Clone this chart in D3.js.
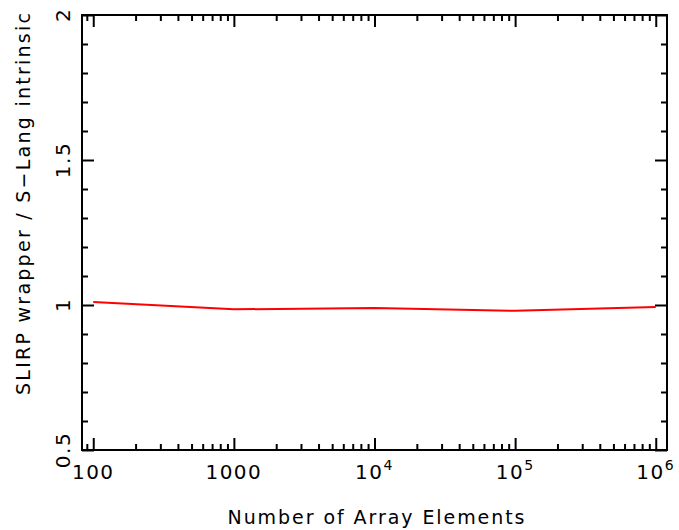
<!DOCTYPE html>
<html lang="en">
<head>
  <meta charset="UTF-8">
  <title>SLIRP wrapper vs S-Lang intrinsic</title>
  <style>
    body { margin: 0; background: #fff; }
    text { font-family: "DejaVu Sans", "Liberation Sans", sans-serif; fill: #000; }
  </style>
</head>
<body>
  <svg id="svg" width="679" height="530"></svg>

  <script src="https://d3js.org/d3.v7.min.js"></script>
  <script>
    // data
    const elements = [100, 1000, 1e4, 1e5, 1e6]
    const ratio = [1.010, 0.985, 0.990, 0.980, 0.993]

    const xMajor = [100, 1000, 1e4, 1e5, 1e6]
    const xMajorExp = [null, null, 4, 5, 6]
    const yMajor = [0.5, 1, 1.5, 2]
    const yMajorLabels = ['0.5', '1', '1.5', '2']

    const margin = { top: 15, right: 12, bottom: 80, left: 82 }
    const width = 679 - margin.left - margin.right
    const height = 530 - margin.top - margin.bottom

    const svg = d3.select('#svg')
    const g = svg.append('g')
      .attr('transform', `translate(${margin.left},${margin.top})`)

    // log axis padded 2% of the decade range on each side
    const x = d3.scaleLog()
      .domain([Math.pow(10, 1.92), Math.pow(10, 6.08)])
      .range([0, width])
    const y = d3.scaleLinear()
      .domain([0.5, 2])
      .range([height, 0])

    // minor ticks
    const xMinor = []
    for (let e = 1; e <= 6; e++) {
      for (let k = 2; k <= 9; k++) {
        const v = k * Math.pow(10, e)
        if (v >= x.domain()[0] && v <= x.domain()[1]) xMinor.push(v)
      }
    }
    const yMinor = d3.range(5, 21).map(d => d / 10).filter(d => yMajor.indexOf(d) < 0)

    function tickAxis(axisFn, scale, values, size) {
      return axisFn(scale).tickValues(values).tickSize(size).tickFormat('')
    }

    const axes = [
      [d3.axisBottom, x, `translate(0,${height})`],
      [d3.axisTop, x, 'translate(0,0)'],
      [d3.axisLeft, y, 'translate(0,0)'],
      [d3.axisRight, y, `translate(${width},0)`]
    ]
    axes.forEach(([fn, scale, tr]) => {
      const isX = scale === x
      g.append('g').attr('transform', tr)
        .call(tickAxis(fn, scale, isX ? xMinor : yMinor, -6))
      g.append('g').attr('transform', tr)
        .call(tickAxis(fn, scale, isX ? xMajor : yMajor, -12))
    })
    g.selectAll('.domain').remove()
    g.selectAll('.tick line').attr('stroke', '#000').attr('stroke-width', 2)

    g.append('rect')
      .attr('width', width)
      .attr('height', height)
      .attr('fill', 'none')
      .attr('stroke', '#000')
      .attr('stroke-width', 2)

    // data line
    const line = d3.line()
      .x((d, i) => x(elements[i]))
      .y(d => y(d))
    g.append('path')
      .datum(ratio)
      .attr('d', line)
      .attr('fill', 'none')
      .attr('stroke', '#ff0000')
      .attr('stroke-width', 2)

    // x tick labels
    const xl = g.append('g')
    xMajor.forEach((v, i) => {
      const t = xl.append('text')
        .attr('x', x(v))
        .attr('y', height + 29)
        .attr('text-anchor', 'middle')
        .attr('font-size', 20)
        .style('letter-spacing', '1.5px')
      if (xMajorExp[i] === null) {
        t.text(String(v))
      } else {
        t.append('tspan').text('10')
        t.append('tspan').attr('font-size', 14).attr('dy', -9).text(xMajorExp[i])
      }
    })

    // y tick labels
    yMajor.forEach((v, i) => {
      g.append('text')
        .attr('transform', `translate(-12,${y(v)}) rotate(-90)`)
        .attr('text-anchor', 'middle')
        .attr('font-size', 20)
        .style('letter-spacing', '1.5px')
        .text(yMajorLabels[i])
    })

    // axis titles
    svg.append('text')
      .attr('x', 376)
      .attr('y', 524)
      .attr('text-anchor', 'middle')
      .attr('font-size', 19)
      .attr('textLength', 297)
      .attr('lengthAdjust', 'spacing')
      .text('Number of Array Elements')

    svg.append('text')
      .attr('transform', 'translate(30,204) rotate(-90)')
      .attr('text-anchor', 'middle')
      .attr('font-size', 19)
      .attr('textLength', 382)
      .attr('lengthAdjust', 'spacing')
      .text('SLIRP wrapper / S\u2212Lang intrinsic')
  </script>
</body>
</html>
